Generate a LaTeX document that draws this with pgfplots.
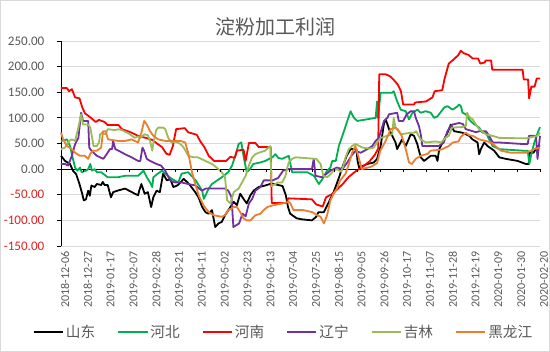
\documentclass[border=0pt]{standalone}
\usepackage{pgfplots}
\pgfplotsset{compat=1.18}
\usepackage{fontspec}
\setmainfont{Carlito}
\newfontfamily\cjk{Noto Sans CJK SC}
\definecolor{cgreen}{HTML}{00B050}
\definecolor{cred}{HTML}{FF0000}
\definecolor{cpurple}{HTML}{7030A0}
\definecolor{colive}{HTML}{9BBB59}
\definecolor{corange}{HTML}{ED7D31}
\definecolor{txt}{HTML}{595959}
\definecolor{gridc}{HTML}{D9D9D9}
\definecolor{negred}{HTML}{E02020}
\begin{document}
\begin{tikzpicture}
\begin{axis}[
  scale only axis, width=359.25pt, height=153.75pt,
  xmin=0, xmax=441, ymin=-150, ymax=250,
  axis y line*=left, axis x line*=bottom,
  x axis line style={draw=none},
  y axis line style={black, line width=0.7pt},
  xtick={0,21,...,441},
  xticklabels={2018-12-06,2018-12-27,2019-01-17,2019-02-07,2019-02-28,2019-03-21,2019-04-11,2019-05-02,2019-05-23,2019-06-13,2019-07-04,2019-07-25,2019-08-15,2019-09-05,2019-09-26,2019-10-17,2019-11-07,2019-11-28,2019-12-19,2020-01-09,2020-01-30,2020-02-20},
  xtick style={draw=none},
  xticklabel style={rotate=90, anchor=east, font=\fontsize{9}{10}\selectfont, text=txt, inner sep=1pt, yshift=-3pt},
  ytick={-150,-100,...,250},
  yticklabels={\textcolor{negred}{-150.00},\textcolor{negred}{-100.00},\textcolor{negred}{-50.00},0.00,50.00,100.00,150.00,200.00,250.00},
  yticklabel style={font=\fontsize{9.8}{11}\selectfont, text=txt, xshift=-6pt},
  ytick style={black, line width=0.6pt},
  tick align=outside, major tick length=3pt,
  ymajorgrids, grid style={gridc, line width=0.6pt},
  clip=false,
  every axis plot/.append style={line width=1.35pt, line join=round},
  legend columns=6,
  legend style={at={(rel axis cs:0.4646,-0.4195)}, anchor=center, draw=none, fill=none,
    font=\cjk\fontsize{11}{13}\selectfont, text=txt,
    /tikz/every even column/.append style={column sep=15pt},
    inner sep=0pt, nodes={inner sep=1.5pt}},
  legend image code/.code={\draw[#1, line width=1.35pt] (0pt,0pt) -- (22pt,0pt);},
]
\addplot[black, line width=0.9pt, forget plot] coordinates {(0,0) (441,0)};
\addplot[black] coordinates {(0,26)(3.7,16)(8.3,10)(11,-3)(14,-10)(17,-29)(19.5,-48)(21,-61)(23,-59)(25,-42)(26.5,-52)(28,-32)(31,-35)(33,-29)(37,-31)(38.5,-25)(40,-31)(43,-31)(46,-55)(48,-45)(52,-42)(59,-38)(68,-48)(71,-51)(72,-42)(74,-29)(77,-48)(80,-45)(83,-74)(85,-55)(88,-42)(91,-45)(94,-9)(97.5,-22)(100.5,-19)(103.5,-35)(107,-32)(110,-26)(113,-19)(116,-25)(119,-32)(123.6,-45)(126.6,-55)(130,-74)(133,-84)(136,-87)(139,-80)(142,-113)(145,-106)(148,-103)(151,-90)(156,-74)(159,-64)(162,-70)(165,-48)(168,-58)(171,-67)(174.4,-51)(177.4,-42)(182,-35)(188,-32)(194,-28)(204,-33)(207,-51)(209,-74)(211,-87)(217,-96)(222,-98)(231,-100)(235,-93)(237,-84)(242,-84)(246,-67)(251,-45)(256,-16)(259,3)(263,26)(266.6,39)(272,39)(273,16)(274.5,3)(282,10)(288,13)(291,20)(294.3,45)(297.4,90)(299,97)(302,78)(305,65)(308,52)(309.5,39)(314,58)(317.4,45)(322,68)(325,65)(328,49)(331.2,23)(334.3,16)(340.4,26)(345,26)(346.6,16)(348.2,39)(351.3,52)(355.8,71)(358.9,87)(362,74)(369.7,71)(375.8,65)(378.9,58)(383.5,52)(385,29)(386.6,39)(389.6,52)(392.7,45)(398.8,36)(403.5,23)(409.6,20)(420.4,16)(428,10)(430.6,10)(431.5,32)(435,32)(439,45)(441,45)};
\addlegendentry{山东}
\addplot[cgreen] coordinates {(0,55)(5.5,58)(8.3,45)(11,20)(13,3)(15,-3)(17.5,3)(19,-6)(23,-3)(25,0)(27,10)(28.5,-3)(31,0)(33,-6)(37,-6)(43,-16)(52,-16)(59,-13)(71,-13)(76,-3)(79,-16)(82,-26)(84,-35)(85,-16)(89,-9)(93,-3)(96,-9)(102,-19)(108,-26)(111,-9)(117,-6)(124,-22)(130,-42)(131.5,-58)(136,-38)(139,-29)(148,-16)(154,-6)(157.5,7)(160.5,26)(163.5,49)(166,52)(168,26)(171,-6)(174,0)(177,10)(183.6,13)(188,16)(194.5,23)(197.5,29)(200,22)(203.6,20)(209.7,26)(212.8,-6)(220.5,-6)(226.7,-6)(232.8,-13)(237.4,-29)(240.5,-20)(245,-3)(248,3)(249.7,16)(253,16)(255.8,45)(260.5,74)(263.6,94)(266.6,113)(269.7,100)(272.8,94)(289.7,100)(291,132)(291.8,100)(294.3,149)(305,149)(306.3,152)(309.5,132)(312.8,116)(317.4,113)(320.4,97)(323.6,110)(328.2,116)(331.2,110)(335.8,113)(340.4,110)(343.5,100)(346.6,103)(352.7,120)(355.8,123)(360.4,116)(363.5,120)(366.6,126)(368.1,123)(369.7,110)(372.7,107)(375.8,97)(378.9,90)(385,81)(388.1,71)(391.2,71)(394.2,58)(397.4,45)(403.5,39)(425,36)(429.7,36)(431.2,10)(432.7,26)(435.8,52)(438.9,71)(441,82)};
\addlegendentry{河北}
\addplot[cred] coordinates {(0,158)(5.5,158)(7.4,152)(10,156)(13,140)(17,138)(19.5,121)(22,109)(27,101)(32,92)(35,96)(40,92)(43,86)(53,86)(56,78)(64,72)(71,65)(78,61)(84,57)(89,49)(93,43)(97,30)(100,28)(103,45)(106,78)(114,80)(117,72)(125,67)(128,55)(132,43)(136,26)(141,16)(152,16)(156,24)(160,22)(162,36)(168,38)(170,16)(173,51)(179,51)(182,43)(193,43)(194,-66)(208,-66)(209,-57)(231,-59)(235,-69)(241,-73)(244,-55)(250,-48)(256,-36)(259,-30)(265,-15)(272,-3)(278,5)(284,15)(289,28)(292,40)(293,185)(299,185)(303,181)(306,175)(310,165)(313,152)(315,126)(325,126)(326,130)(336,132)(342,140)(344,152)(351,154)(353,175)(357,206)(361,213)(366,223)(368,231)(371,226)(375,223)(379,216)(384,216)(386,206)(390,208)(391,212)(396,212)(397,194)(425,194)(426,175)(430,175)(431,138)(433,161)(436,161)(438,177)(441,177)};
\addlegendentry{河南}
\addplot[cpurple] coordinates {(0,10)(3.7,10)(6.5,7)(10,26)(13,49)(16,61)(18.5,110)(20.3,94)(25,94)(26,42)(28,36)(33,26)(39,20)(42,29)(45,39)(47,39)(48,55)(50,39)(53,36)(59,29)(65,23)(71,16)(73,16)(75,42)(76.5,36)(79,20)(82,16)(85,13)(88,10)(92,7)(96,-3)(100.5,-22)(105,-26)(111,-26)(117,-29)(124,-32)(127,-38)(130,-42)(133,-38)(151,-38)(154,-42)(157,-55)(158.7,-113)(164,-106)(167,-87)(170,-92)(173,-67)(176,-58)(179,-42)(183.6,-35)(186.6,-22)(190,-22)(195,-22)(200,-17)(204.5,-3)(209.4,0)(231,0)(232.7,20)(234.3,-13)(240.5,-16)(248,-3)(254,3)(259,0)(263.6,13)(268,28)(271,35)(276,32)(282,39)(286.6,45)(289.7,55)(292.7,61)(297.4,94)(300.5,100)(302,107)(309.5,110)(311,94)(315,94)(318.3,107)(322,113)(325,113)(326.6,100)(329.6,84)(331.2,68)(332.7,45)(340.4,45)(347.8,45)(352.4,52)(355.8,74)(358.9,84)(360.4,87)(366.6,90)(370,88)(372.7,78)(379,74)(382,72)(385,74)(391.2,74)(394.2,65)(397.4,52)(403,52)(425,49)(429.7,49)(431,65)(437.3,65)(438.7,20)(440,45)(441,65)};
\addlegendentry{辽宁}
\addplot[colive] coordinates {(0,39)(3.7,42)(7.4,55)(10,58)(13,55)(16,81)(18.5,107)(20.3,87)(25,87)(27,81)(30,45)(33,45)(35,52)(36,68)(38,71)(41,68)(43,78)(50,76)(53,78)(56,76)(59,73)(62,70)(68,61)(71,64)(73,61)(77,68)(80,66)(82,55)(84,36)(85,50)(87.6,76)(89.5,81)(94,81)(96,78)(98.7,61)(101.7,52)(105,54)(110,49)(113,42)(117.2,26)(122,23)(126,23)(133,16)(139,10)(145,0)(148,-6)(151,-16)(153,-61)(156,-67)(159,-45)(163.5,-38)(166.7,-26)(170,-13)(173,7)(176,23)(179,29)(182,32)(188,36)(191,42)(192.8,45)(193.8,-33)(200,-26)(203.6,-26)(206.7,-13)(208,0)(209.7,13)(212.8,20)(216,23)(235,20)(239,10)(241.5,-13)(245,-16)(248,-10)(251,-3)(254,0)(258,-5)(260,7)(262,23)(265,39)(268,45)(271,49)(277.5,42)(284,40)(288,42)(291,52)(294.3,61)(305,68)(306.3,100)(308,81)(313,68)(322,71)(325,71)(327,74)(331,58)(336,52)(345,54)(350,52)(354,61)(357,65)(360,81)(369,82)(372.7,84)(374,110)(375.5,103)(379,97)(382,87)(385,78)(391,68)(397,65)(403.5,61)(428,60)(438.7,65)(441,71)};
\addlegendentry{吉林}
\addplot[corange] coordinates {(0,71)(2,58)(5.5,45)(10,39)(13,32)(17.5,26)(22,26)(25,20)(27,30)(29.5,36)(33,36)(37,42)(38.7,74)(41,74)(43.4,58)(52.6,55)(59,55)(65,58)(71,52)(74,71)(76.6,94)(79,87)(82,74)(85,65)(89.5,58)(96,55)(110,55)(114.4,52)(117.4,29)(120.6,-6)(123.6,-29)(126.7,-51)(131.3,-71)(136,-84)(140.5,-90)(148,-93)(151,-90)(154,-80)(159,-74)(162,-74)(165,-84)(168,-96)(171,-100)(174.4,-100)(179,-90)(183.6,-87)(186.6,-80)(190,-74)(194.5,-71)(203.6,-67)(209.7,-64)(211,-66)(214,-80)(223,-80)(231.5,-84)(236,-90)(239,-93)(242,-106)(245,-90)(248,-61)(251,-48)(254,-38)(257,-22)(262,-9)(265,10)(268,32)(271,45)(274,23)(277,0)(286,5)(291,12)(294,36)(298.9,55)(303.5,78)(308,81)(310,78)(313.7,65)(317.4,39)(320.4,13)(323,10)(326.6,20)(331.2,26)(337.7,30)(340.4,36)(350,38)(357,45)(360.7,52)(366,54)(368,63)(372.7,71)(376,66)(379,65)(385,58)(391,55)(396,52)(400,45)(405,36)(414,32)(428,32)(432,35)(435.5,39)(441,42)};
\addlegendentry{黑龙江}
\pgfplotsinvokeforeach{0,21,42,63,84,105,126,147,168,189,210,231,252,273,294,315,336,357,378,399,420,441}{\draw[black, line width=0.6pt] (axis cs:#1,0) -- (axis cs:#1,-6);}
\end{axis}
\node[text=txt, font=\cjk\fontsize{15}{17}\selectfont] at (160.5pt,164.25pt) {淀粉加工利润};
\pgfresetboundingbox
\path[use as bounding box] (-45.75pt,-79.5pt) rectangle (366.75pt,184.5pt);
\draw[gridc, line width=0.8pt] (-45.35pt,-79.1pt) rectangle (366.35pt,184.1pt);
\end{tikzpicture}
\end{document}
